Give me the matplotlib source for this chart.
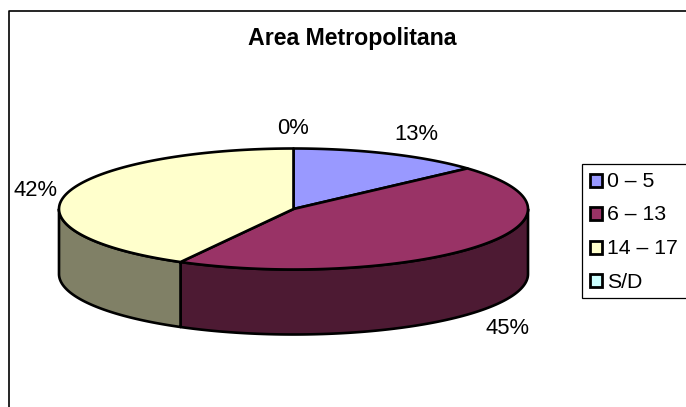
import numpy as np
import matplotlib
matplotlib.use("Agg")
import matplotlib.pyplot as plt
from matplotlib.patches import Polygon, Rectangle

plt.rcParams['font.family'] = ['Liberation Sans', 'DejaVu Sans']

title = "Area Metropolitana"
categories = ["0 – 5", "6 – 13", "14 – 17", "S/D"]
values = [13.3, 44.7, 42.0, 0.0]
top_colors = ["#9999FF", "#993366", "#FFFFCC", "#CCFFFF"]
side_colors = ["#4D4D80", "#4D1A33", "#808066", "#668080"]
label_xy = [(416, 135), (507, 329), (35, 191), (293, 129)]
legend_y = [180, 213.5, 247, 280.5]

W, H = 686, 407
CX, CY, RX, RY, DEPTH = 293.5, 209, 234.5, 60.5, 65

fig = plt.figure(figsize=(W / 100, H / 100), dpi=100)
ax = fig.add_axes([0, 0, 1, 1])
ax.set_xlim(0, W)
ax.set_ylim(H, 0)
ax.axis("off")

# outer chart frame
ax.plot([8.5, 8.5, W], [H, 10.5, 10.5], color="black", lw=1.2, zorder=1)


def ell(theta):
    return CX + RX * np.sin(theta), CY - RY * np.cos(theta)


fractions = np.array(values, dtype=float) / sum(values)
edges = np.concatenate([[0], np.cumsum(fractions)]) * 2 * np.pi

# visible side walls (front half)
for i in range(len(values)):
    a, b = max(edges[i], np.pi / 2), min(edges[i + 1], 3 * np.pi / 2)
    if b <= a:
        continue
    t = np.linspace(a, b, 200)
    x, y = ell(t)
    pts = np.r_[np.c_[x, y], np.c_[x[::-1], y[::-1] + DEPTH]]
    ax.add_patch(Polygon(pts, closed=True, fc=side_colors[i], ec="black", lw=1.9,
                         joinstyle="round", zorder=2))

# top faces
for i in range(len(values)):
    if values[i] == 0:
        continue
    t = np.linspace(edges[i], edges[i + 1], 300)
    x, y = ell(t)
    pts = np.r_[[[CX, CY]], np.c_[x, y]]
    ax.add_patch(Polygon(pts, closed=True, fc=top_colors[i], ec="black", lw=1.9,
                         joinstyle="round", zorder=3))

# data labels
for v, (lx, ly) in zip(values, label_xy):
    ax.text(lx, ly, f"{v:.0f}%", ha="center", va="center", fontsize=15.8, color="black", zorder=5)

ax.text(352.5, 38.5, title, ha="center", va="center", fontsize=16.7, fontweight="bold", zorder=5)

# legend
ax.add_patch(Rectangle((582, 163.5), 110, 134, fc="white", ec="black", lw=0.9, zorder=4))
for name, c, y in zip(categories, top_colors, legend_y):
    ax.add_patch(Rectangle((589.5, y - 6.5), 12.5, 13, fc=c, ec="black", lw=2.0, zorder=5))
    ax.text(607, y + 1.5, name, ha="left", va="center", fontsize=15.3, zorder=5)

fig.savefig("out.png", dpi=100, facecolor="white")
